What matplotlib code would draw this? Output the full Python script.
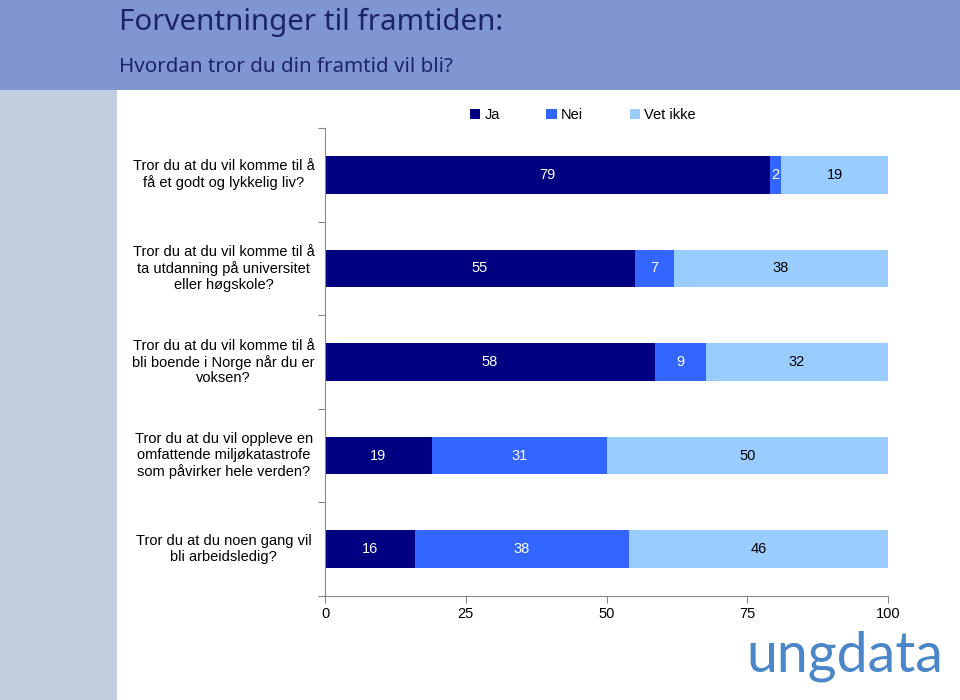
import numpy as np
import matplotlib
matplotlib.use("Agg")
import matplotlib.pyplot as plt
from matplotlib.patches import Rectangle

plt.rcParams['font.family'] = ['Liberation Sans', 'DejaVu Sans']

# data
questions = [
    "Tror du at du vil komme til å\nfå et godt og lykkelig liv?",
    "Tror du at du vil komme til å\nta utdanning på universitet\neller høgskole?",
    "Tror du at du vil komme til å\nbli boende i Norge når du er\nvoksen?",
    "Tror du at du vil oppleve en\nomfattende miljøkatastrofe\nsom påvirker hele verden?",
    "Tror du at du noen gang vil\nbli arbeidsledig?",
]
ja = [79, 55, 58, 19, 16]
nei = [2, 7, 9, 31, 38]
vet_ikke = [19, 38, 32, 50, 46]
series_names = ["Ja", "Nei", "Vet ikke"]
x_ticks = [0, 25, 50, 75, 100]

colors = ['#000080', '#3366ff', '#99ccff']
text_colors = ['white', 'white', 'black']

fig = plt.figure(figsize=(9.6, 7), dpi=100)

# background decoration: header band and side bar
fig.patches.append(Rectangle((0, 1 - 90 / 700), 1, 90 / 700, transform=fig.transFigure,
                             facecolor='#8096d0', edgecolor='none', zorder=0))
fig.patches.append(Rectangle((0, 0), 117 / 960, 1 - 90 / 700, transform=fig.transFigure,
                             facecolor='#c3cde0', edgecolor='none', zorder=0))

fig.text(119 / 960, 1 - 30 / 700, "Forventninger til framtiden:", fontsize=21.3,
         color='#1c2468', va='baseline', ha='left', family='Noto Sans')
fig.text(119 / 960, 1 - 72 / 700, "Hvordan tror du din framtid vil bli?", fontsize=14.8,
         color='#1c2468', va='baseline', ha='left', family='Noto Sans')

ax = fig.add_axes([325 / 960, 1 - 596 / 700, 563 / 960, 468 / 700])

y = np.arange(len(questions))
series = [np.array(ja, float), np.array(nei, float), np.array(vet_ikke, float)]
totals = sum(series)
left = np.zeros(len(questions))
for vals, col, tc, name in zip(series, colors, text_colors, series_names):
    share = vals / totals * 100  # 100 % stacked
    ax.barh(y, share, left=left, height=0.4, color=col, label=name)
    for yi, l, s, v in zip(y, left, share, vals):
        ax.text(l + s / 2, yi, str(int(v)), ha='center', va='center', color=tc, fontsize=10.5)
    left += share

ax.set_xlim(0, 100)
ax.set_ylim(len(questions) - 0.5, -0.5)
ax.set_xticks(x_ticks)
ax.tick_params(axis='x', labelsize=10.5, length=5, color='#888888', pad=3)

# category labels between the boundary ticks
ax.set_yticks(np.arange(len(questions) + 1) - 0.5)
ax.set_yticklabels([])
ax.tick_params(axis='y', length=5, color='#888888')
for yi, q in zip(y, questions):
    ax.text(-18, yi, q, ha='center', va='center', fontsize=10.5, linespacing=1.15,
            clip_on=False)

for s in ['top', 'right']:
    ax.spines[s].set_visible(False)
for s in ['left', 'bottom']:
    ax.spines[s].set_color('#888888')

ax.legend(loc='upper center', bbox_to_anchor=(0.458, 1.07), ncol=3, frameon=False,
          fontsize=10.5, handlelength=0.7, handleheight=0.7, columnspacing=3.2,
          handletextpad=0.3)

fig.text(746 / 960, 1 - 672 / 700, "ungdata", fontsize=40, color='#4a86c8',
         ha='left', va='baseline', fontweight='normal', family='Lato')

fig.savefig("out.png", dpi=100)
